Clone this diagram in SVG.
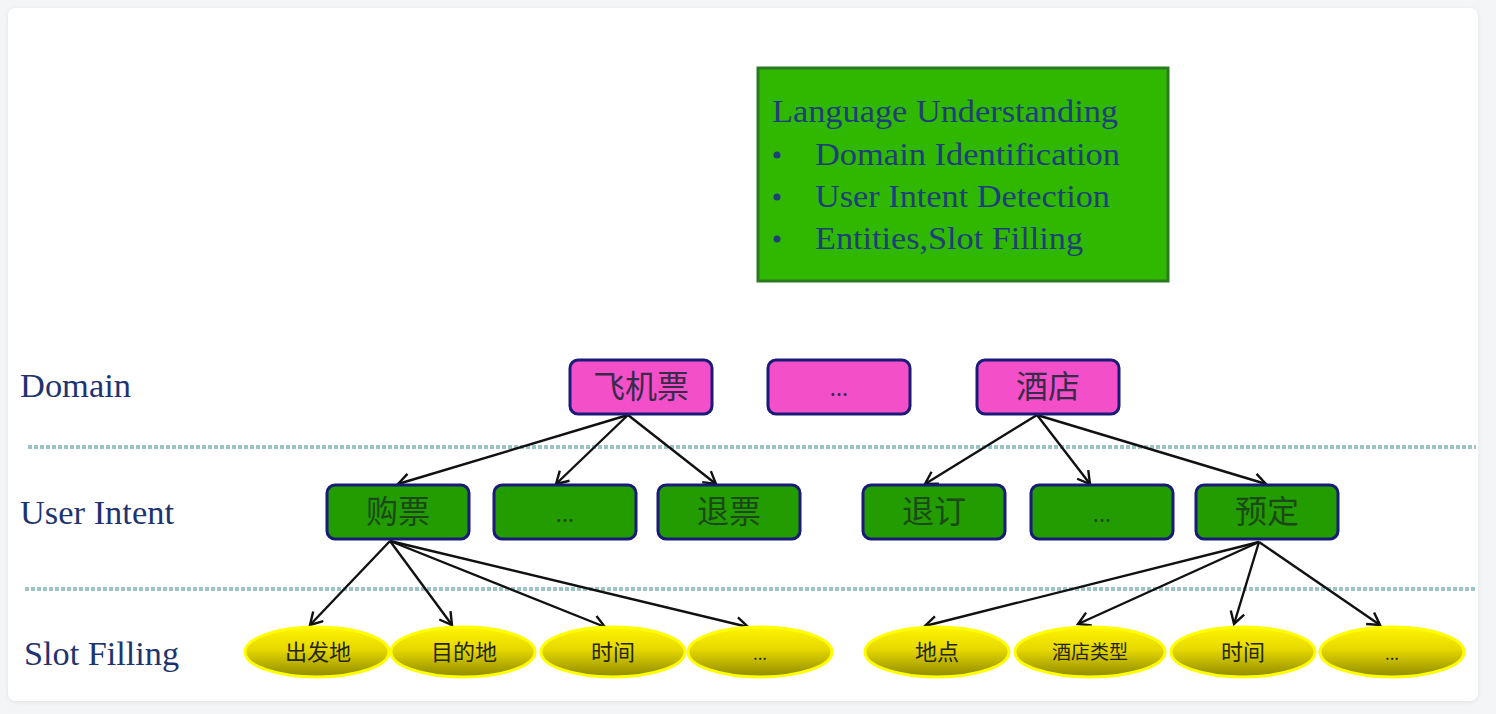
<svg xmlns="http://www.w3.org/2000/svg" width="1496" height="714" viewBox="0 0 1496 714">
<defs>
<style>
.lbl{font-family:"Liberation Serif","Times New Roman",serif;font-size:34px;fill:#1e3470}
.lu{font-family:"Liberation Serif","Times New Roman",serif;font-size:32px;fill:#1f3f7a}
.dom{fill:#f24fc9;stroke:#1a1a78;stroke-width:3}
.int{fill:#229c00;stroke:#1a1a78;stroke-width:3}
.slot{fill:url(#yg);stroke:#ffff00;stroke-width:3}
.cn{font-family:"Noto Sans CJK SC","Noto Sans",sans-serif;font-size:32px;text-anchor:middle}
.dt{fill:#3a2a4a}
.gt{fill:#1b4a18}
.st{font-family:"Noto Sans CJK SC","Noto Sans",sans-serif;font-size:22px;text-anchor:middle;fill:#26260c}
.sep{stroke:#9cc4c4;stroke-width:4;stroke-dasharray:4 2;fill:none}
.con{stroke:#111;stroke-width:2.4;fill:none;marker-end:url(#ah)}
</style>
<linearGradient id="yg" x1="0" y1="0" x2="0" y2="1">
<stop offset="0" stop-color="#fff500"/>
<stop offset="0.45" stop-color="#e6d800"/>
<stop offset="1" stop-color="#8e8a00"/>
</linearGradient>
<marker id="ah" markerWidth="18" markerHeight="18" refX="13" refY="8" orient="auto" markerUnits="userSpaceOnUse">
<path d="M1,1 L13,8 L1,15" fill="none" stroke="#111" stroke-width="2.4"/>
</marker>
<filter id="sh" x="-2%" y="-2%" width="104%" height="104%">
<feDropShadow dx="0" dy="1" stdDeviation="2" flood-color="#000" flood-opacity="0.08"/>
</filter>
</defs>
<rect x="0" y="0" width="1496" height="714" fill="#f4f5f7"/>
<rect x="8" y="8" width="1470" height="693" rx="8" fill="#ffffff" filter="url(#sh)"/>

<g id="separators">
<line class="sep" x1="28" y1="447" x2="1476" y2="447"/>
<line class="sep" x1="25" y1="589" x2="1476" y2="589"/>
</g>

<g id="row-labels">
<text class="lbl" x="20" y="397" textLength="111" lengthAdjust="spacingAndGlyphs">Domain</text>
<text class="lbl" x="20" y="524" textLength="154" lengthAdjust="spacingAndGlyphs">User Intent</text>
<text class="lbl" x="24" y="665" textLength="155" lengthAdjust="spacingAndGlyphs">Slot Filling</text>
</g>

<g id="lu-box">
<rect x="758" y="68" width="410" height="213" fill="#30b800" stroke="#2a7a20" stroke-width="3"/>
<text class="lu" x="772" y="122" textLength="346" lengthAdjust="spacingAndGlyphs">Language Understanding</text>
<circle cx="777" cy="155" r="3.5" fill="#1f3f7a"/>
<text class="lu" x="815" y="165" textLength="305" lengthAdjust="spacingAndGlyphs">Domain Identification</text>
<circle cx="777" cy="197" r="3.5" fill="#1f3f7a"/>
<text class="lu" x="815" y="207" textLength="295" lengthAdjust="spacingAndGlyphs">User Intent Detection</text>
<circle cx="777" cy="239" r="3.5" fill="#1f3f7a"/>
<text class="lu" x="815" y="249" textLength="268" lengthAdjust="spacingAndGlyphs">Entities,Slot Filling</text>
</g>

<g id="connectors">
<line class="con" x1="628" y1="415" x2="398" y2="484"/>
<line class="con" x1="628" y1="415" x2="556" y2="484"/>
<line class="con" x1="628" y1="415" x2="716" y2="484"/>
<line class="con" x1="1037" y1="415" x2="925" y2="484"/>
<line class="con" x1="1037" y1="415" x2="1090" y2="484"/>
<line class="con" x1="1037" y1="415" x2="1266" y2="484"/>
<line class="con" x1="390" y1="541" x2="310" y2="625"/>
<line class="con" x1="390" y1="541" x2="452" y2="625"/>
<line class="con" x1="390" y1="541" x2="605" y2="627"/>
<line class="con" x1="390" y1="541" x2="748" y2="627"/>
<line class="con" x1="1259" y1="542" x2="925" y2="626"/>
<line class="con" x1="1259" y1="542" x2="1078" y2="624"/>
<line class="con" x1="1259" y1="542" x2="1234" y2="624"/>
<line class="con" x1="1259" y1="542" x2="1380" y2="625"/>
</g>

<g id="domain-flight"><rect class="dom" x="570" y="360" width="142" height="54" rx="8"/><text class="cn dt" x="641" y="398">飞机票</text></g>
<g id="domain-more"><rect class="dom" x="768" y="360" width="142" height="54" rx="8"/><text class="cn dt" x="839" y="396" style="font-size:22px">...</text></g>
<g id="domain-hotel"><rect class="dom" x="977" y="360" width="142" height="54" rx="8"/><text class="cn dt" x="1048" y="398">酒店</text></g>

<g id="intent-buy"><rect class="int" x="327" y="485" width="142" height="54" rx="8"/><text class="cn gt" x="398" y="523">购票</text></g>
<g id="intent-more1"><rect class="int" x="494" y="485" width="142" height="54" rx="8"/><text class="cn gt" x="565" y="522" style="font-size:22px">...</text></g>
<g id="intent-refund"><rect class="int" x="658" y="485" width="142" height="54" rx="8"/><text class="cn gt" x="729" y="523">退票</text></g>
<g id="intent-cancel"><rect class="int" x="863" y="485" width="142" height="54" rx="8"/><text class="cn gt" x="934" y="523">退订</text></g>
<g id="intent-more2"><rect class="int" x="1031" y="485" width="142" height="54" rx="8"/><text class="cn gt" x="1102" y="522" style="font-size:22px">...</text></g>
<g id="intent-book"><rect class="int" x="1196" y="485" width="142" height="54" rx="8"/><text class="cn gt" x="1267" y="523">预定</text></g>

<g id="slot-from"><ellipse class="slot" cx="317" cy="652" rx="72" ry="25"/><text class="st" x="318" y="660">出发地</text></g>
<g id="slot-to"><ellipse class="slot" cx="463" cy="652" rx="72" ry="25"/><text class="st" x="464" y="660">目的地</text></g>
<g id="slot-time1"><ellipse class="slot" cx="613" cy="652" rx="72" ry="25"/><text class="st" x="613" y="660">时间</text></g>
<g id="slot-more1"><ellipse class="slot" cx="760" cy="652" rx="72" ry="25"/><text class="st" x="760" y="660" style="font-size:17px">...</text></g>
<g id="slot-place"><ellipse class="slot" cx="937" cy="652" rx="72" ry="25"/><text class="st" x="937" y="660">地点</text></g>
<g id="slot-hoteltype"><ellipse class="slot" cx="1090" cy="652" rx="75" ry="25"/><text class="st" x="1090" y="659" style="font-size:19px">酒店类型</text></g>
<g id="slot-time2"><ellipse class="slot" cx="1243" cy="652" rx="72" ry="25"/><text class="st" x="1243" y="660">时间</text></g>
<g id="slot-more2"><ellipse class="slot" cx="1392" cy="652" rx="72" ry="25"/><text class="st" x="1392" y="660" style="font-size:17px">...</text></g>
</svg>
